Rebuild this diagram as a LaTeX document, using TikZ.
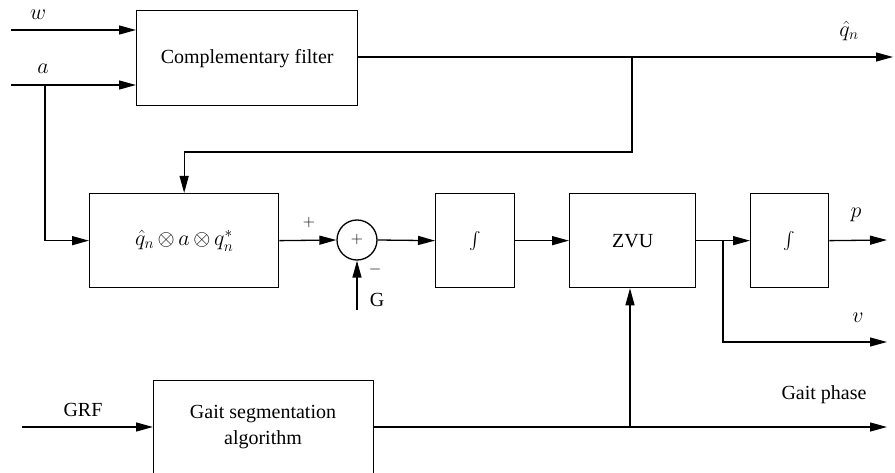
\RequirePackage{fix-cm}
\documentclass[tikz,border=0pt]{standalone}
\usepackage{exscale}
\usepackage{fontspec}
\setmainfont{Liberation Serif}
\usetikzlibrary{arrows.meta,positioning}
\begin{document}
\begin{tikzpicture}[x=1pt,y=-1pt,
  every node/.style={font=\fontsize{20}{24}\selectfont},
  blk/.style={draw,line width=1.3pt,inner sep=0pt,anchor=north west},
  conn/.style={line width=1.3pt},
  arr/.style={conn,-{Triangle[length=17pt,width=9pt]}},
  lbl/.style={inner sep=0pt},
  mth/.style={font=\fontsize{22}{26}\selectfont}]
\useasboundingbox (0,0) rectangle (895,473);
% blocks
\node[blk,minimum width=221pt,minimum height=95pt] (cf) at (136,10) {Complementary filter};
\node[blk,minimum width=189pt,minimum height=94pt,mth] (rot) at (89,193) {$\hat{q}_n\,{\otimes}\,a\,{\otimes}\,q_n^{*}$};
\node[draw,circle,line width=1.3pt,minimum size=40pt,inner sep=0pt,font=\fontsize{16}{18}\selectfont] (sum) at (357,240) {$+$};
\node[blk,minimum width=79pt,minimum height=94pt,font=\fontsize{17}{20}\selectfont] (int1) at (435,193) {$\int$};
\node[blk,minimum width=126pt,minimum height=94pt] (zvu) at (569,193) {ZVU};
\node[blk,minimum width=78pt,minimum height=94pt,font=\fontsize{17}{20}\selectfont] (int2) at (750,193) {$\int$};
\node[blk,minimum width=220pt,minimum height=110pt,align=center] (gait) at (153,380) {};
\node[align=center,lbl] (gaittxt) at (263,427) {Gait segmentation\\[2pt]algorithm};
% coordinates
\coordinate (win) at (11,30);
\coordinate (ain) at (11,85);
\coordinate (abr) at (45,85);
\coordinate (qout) at (893,57);
\coordinate (qbr) at (632,57);
\coordinate (qfb) at (632,152);
\coordinate (gin) at (357,310);
\coordinate (vbr) at (723,240);
\coordinate (vout) at (887,342);
\coordinate (pout) at (887,240);
\coordinate (grfin) at (22,427);
\coordinate (gpout) at (887,427);
\coordinate (zbr) at (630,427);
% labels
\node[lbl,mth] (wl) at (38,15) {$w$};
\node[lbl,mth] (al) at (43,69) {$a$};
\node[lbl,mth] (ql) at (849,31) {$\hat{q}_n$};
\node[lbl,font=\fontsize{16}{18}\selectfont] (plus) at (309,223) {$+$};
\node[lbl,font=\fontsize{16}{18}\selectfont] (minus) at (375,270) {$-$};
\node[lbl] (gl) at (377,300) {G};
\node[lbl,mth] (pl) at (856,215) {$p$};
\node[lbl,mth] (vl) at (858,318) {$v$};
\node[lbl] (grfl) at (83,410) {GRF};
\node[lbl] (gpl) at (824,395) {Gait phase};
% connectors
\draw[arr] (win) -- (win -| cf.west);
\draw[arr] (ain) -- (ain -| cf.west);
\draw[arr] (abr) |- (rot.west);
\draw[arr] (cf.east |- qout) -- (qout);
\draw[arr] (qbr) -- (qfb) -| (rot.north);
\draw[arr] (rot.east) -- (sum.west);
\draw[arr] (gin) -- (sum.south);
\draw[arr] (sum.east) -- (int1.west);
\draw[arr] (int1.east) -- (zvu.west);
\draw[arr] (zvu.east) -- (int2.west);
\draw[arr] (int2.east) -- (pout);
\draw[arr] (vbr) |- (vout);
\draw[arr] (grfin) -- (gait.west |- grfin);
\draw[arr] (gait.east |- gpout) -- (gpout);
\draw[arr] (zbr) -- (zvu.south -| zbr);
\end{tikzpicture}
\end{document}
